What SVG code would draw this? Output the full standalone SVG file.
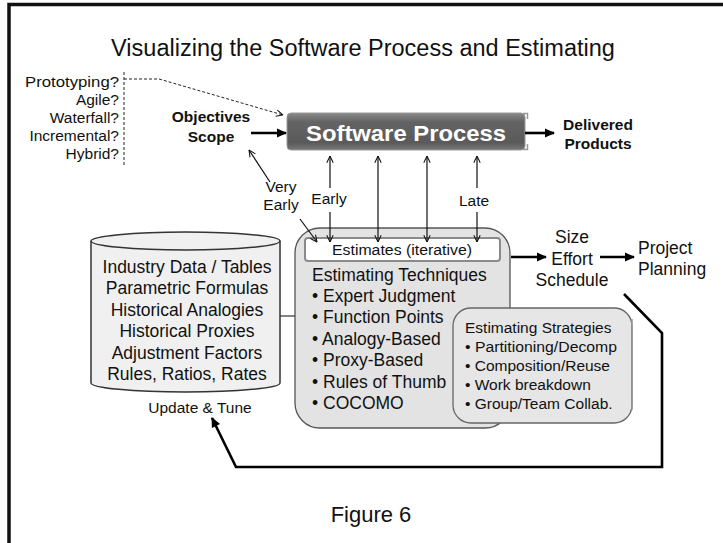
<svg xmlns="http://www.w3.org/2000/svg" width="723" height="543" viewBox="0 0 723 543">
<style>
text{font-family:"Liberation Sans",Arial,sans-serif;fill:#111}
.t14{font-size:15.5px}
.b{font-weight:bold}
.t17{font-size:17.5px}
.mid{text-anchor:middle}
.end{text-anchor:end}
.thin{stroke:#111;stroke-width:1.2;fill:none}
.thick{stroke:#000;stroke-width:2.6;fill:none}
.tab{stroke:#9a9a9a;stroke-width:1.5;fill:none}
</style>
<defs>
<marker id="open" viewBox="0 0 10 10" refX="9.5" refY="5" markerWidth="8" markerHeight="8" markerUnits="userSpaceOnUse" orient="auto-start-reverse"><path d="M1,1 L9.5,5 L1,9" fill="none" stroke="#111" stroke-width="1.3"/></marker>
<marker id="solid" viewBox="0 0 10 10" refX="9" refY="5" markerWidth="11" markerHeight="10" markerUnits="userSpaceOnUse" orient="auto"><path d="M0,0.5 L10,5 L0,9.5 z" fill="#000"/></marker>
<linearGradient id="sp" x1="0" y1="0" x2="0" y2="1">
<stop offset="0" stop-color="#8a8a8a"/>
<stop offset="0.25" stop-color="#636363"/>
<stop offset="0.8" stop-color="#5a5a5a"/>
<stop offset="1" stop-color="#777"/>
</linearGradient>
</defs>

<path d="M9,543 V4.5 H723" fill="none" stroke="#111" stroke-width="3.5"/>

<g id="title"><text x="363" y="56" class="mid" style="font-size:23.5px">Visualizing the Software Process and Estimating</text></g>

<g id="process-models">
<text x="119" y="87" class="end t14" textLength="94" lengthAdjust="spacingAndGlyphs">Prototyping?</text>
<text x="119" y="105" class="end t14">Agile?</text>
<text x="119" y="123" class="end t14">Waterfall?</text>
<text x="119" y="141" class="end t14">Incremental?</text>
<text x="119" y="159" class="end t14">Hybrid?</text>
<line x1="124" y1="72" x2="124" y2="165" stroke="#222" stroke-width="1" stroke-dasharray="3,2"/>
</g>

<g id="objectives">
<text x="211" y="122" class="mid b" style="font-size:15.5px">Objectives</text>
<text x="211" y="142" class="mid b" style="font-size:15.5px">Scope</text>
</g>

<g id="software-process">
<rect x="287" y="113" width="238" height="37" rx="4" fill="url(#sp)" stroke="#999" stroke-width="1"/>
<path d="M523,113.5 H527.5 V119 M523,149.5 H527.5 V144" class="tab"/>
<text x="406" y="141" class="mid b" style="font-size:22px;fill:#fff" textLength="200" lengthAdjust="spacingAndGlyphs">Software Process</text>
</g>

<g id="delivered">
<text x="598" y="130" class="mid b" style="font-size:15.5px">Delivered</text>
<text x="598" y="149" class="mid b" style="font-size:15.5px">Products</text>
</g>

<g id="data-store">
<path d="M91,241 V383 A94.5,9 0 0 0 280,383 V241" fill="#f0f0f0" stroke="#333" stroke-width="1.5"/>
<ellipse cx="185.5" cy="241" rx="94.5" ry="9" fill="#f0f0f0" stroke="#333" stroke-width="1.5"/>
<text x="187" y="273" class="mid t17">Industry Data / Tables</text>
<text x="187" y="294" class="mid t17">Parametric Formulas</text>
<text x="187" y="316" class="mid t17">Historical Analogies</text>
<text x="187" y="337" class="mid t17">Historical Proxies</text>
<text x="187" y="359" class="mid t17">Adjustment Factors</text>
<text x="187" y="380" class="mid t17">Rules, Ratios, Rates</text>
</g>

<g id="estimating-techniques">
<rect x="295" y="228" width="215" height="200" rx="25" fill="#e3e3e3" stroke="#555" stroke-width="1.3"/>
<rect x="305" y="238" width="195" height="23" rx="3" fill="#fff" stroke="#8a8a8a" stroke-width="2"/>
<text x="402" y="255" class="mid" style="font-size:15.5px" textLength="140" lengthAdjust="spacingAndGlyphs">Estimates (iterative)</text>
<text x="312" y="281" class="t17">Estimating Techniques</text>
<text x="312" y="302" class="t17">• Expert Judgment</text>
<text x="312" y="323" class="t17">• Function Points</text>
<text x="312" y="345" class="t17">• Analogy-Based</text>
<text x="312" y="366" class="t17">• Proxy-Based</text>
<text x="312" y="388" class="t17">• Rules of Thumb</text>
<text x="312" y="409" class="t17">• COCOMO</text>
</g>

<g id="estimating-strategies">
<rect x="453" y="308" width="179" height="115" rx="18" fill="#e6e6e6" stroke="#666" stroke-width="1.3"/>
<path d="M632,319 V325 M632,404 V410" class="tab"/>
<text x="465" y="333" style="font-size:15.5px">Estimating Strategies</text>
<text x="465" y="352" style="font-size:15.5px" textLength="152" lengthAdjust="spacingAndGlyphs">• Partitioning/Decomp</text>
<text x="465" y="371" style="font-size:15.5px">• Composition/Reuse</text>
<text x="465" y="390" style="font-size:15.5px">• Work breakdown</text>
<text x="465" y="409" style="font-size:15.5px">• Group/Team Collab.</text>
</g>

<g id="outputs">
<text x="572" y="243" class="mid t17">Size</text>
<text x="572" y="265" class="mid t17">Effort</text>
<text x="572" y="286" class="mid t17">Schedule</text>
</g>

<g id="project-planning">
<text x="638" y="254" class="t17">Project</text>
<text x="638" y="275" class="t17">Planning</text>
</g>

<g id="update-tune"><text x="200" y="413" class="mid t14">Update &amp; Tune</text></g>

<g id="caption"><text x="371" y="522" class="mid" style="font-size:22px">Figure 6</text></g>

<g id="connectors">
<path d="M124,79 H159 L283,115" fill="none" stroke="#222" stroke-width="1" stroke-dasharray="3,2" marker-end="url(#open)"/>
<line x1="251" y1="133" x2="286" y2="133" class="thick" marker-end="url(#solid)"/>
<line x1="525" y1="133" x2="554" y2="133" class="thick" marker-end="url(#solid)"/>
<line x1="270" y1="182" x2="249" y2="150" class="thin" marker-end="url(#open)"/>
<line x1="300" y1="219" x2="317" y2="242" class="thin" marker-end="url(#open)"/>
<text x="281" y="192" class="mid t14">Very</text>
<text x="281" y="210" class="mid t14">Early</text>
<line x1="330" y1="156" x2="330" y2="188" class="thin" marker-start="url(#open)"/>
<line x1="330" y1="212" x2="330" y2="242" class="thin" marker-end="url(#open)"/>
<text x="329" y="204" class="mid t14">Early</text>
<line x1="378" y1="156" x2="378" y2="242" class="thin" marker-start="url(#open)" marker-end="url(#open)"/>
<line x1="427" y1="156" x2="427" y2="242" class="thin" marker-start="url(#open)" marker-end="url(#open)"/>
<line x1="477" y1="156" x2="477" y2="188" class="thin" marker-start="url(#open)"/>
<line x1="477" y1="212" x2="477" y2="242" class="thin" marker-end="url(#open)"/>
<text x="474" y="206" class="mid t14">Late</text>
<line x1="280" y1="316" x2="295" y2="316" stroke="#333" stroke-width="1.2"/>
<line x1="511" y1="257" x2="546" y2="257" class="thick" marker-end="url(#solid)"/>
<line x1="600" y1="257" x2="634" y2="257" class="thick" marker-end="url(#solid)"/>
<path d="M624,294 L662,333 V467 H236 L212,418" class="thick" marker-end="url(#solid)"/>
</g>
</svg>
